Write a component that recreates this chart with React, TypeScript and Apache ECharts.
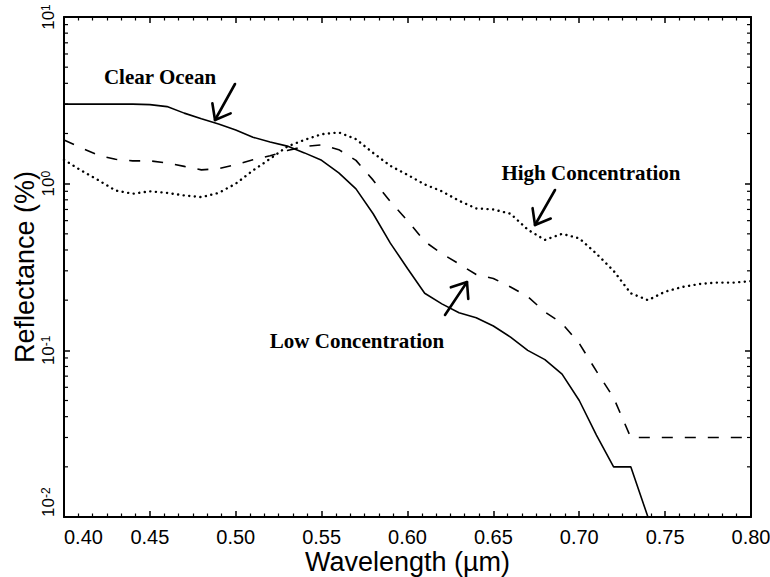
import React, { useEffect, useRef } from "react";
import * as echarts from "echarts";

// ---- data ----
const wavelengths = [
  0.40, 0.41, 0.42, 0.43, 0.44, 0.45, 0.46, 0.47, 0.48, 0.49,
  0.50, 0.51, 0.52, 0.53, 0.54, 0.55, 0.56, 0.57, 0.58, 0.59,
  0.60, 0.61, 0.62, 0.63, 0.64, 0.65, 0.66, 0.67, 0.68, 0.69,
  0.70, 0.71, 0.72, 0.73, 0.74, 0.75, 0.76, 0.77, 0.78, 0.79, 0.80,
];

const clearOcean = [
  3.0, 3.0, 3.0, 3.0, 3.0, 2.98, 2.9, 2.65, 2.45, 2.28,
  2.1, 1.9, 1.78, 1.68, 1.53, 1.38, 1.16, 0.93, 0.66, 0.44,
  0.31, 0.22, 0.19, 0.168, 0.157, 0.14, 0.12, 0.1, 0.088, 0.072,
  0.05, 0.031, 0.02, 0.02, 0.01, null, null, null, null, null, null,
];

const lowConcentration = [
  1.83, 1.64, 1.48, 1.4, 1.37, 1.37, 1.33, 1.27, 1.21, 1.23,
  1.3, 1.39, 1.47, 1.58, 1.67, 1.71, 1.6, 1.38, 1.05, 0.78,
  0.6, 0.45, 0.38, 0.33, 0.285, 0.27, 0.24, 0.21, 0.17, 0.145,
  0.11, 0.075, 0.052, 0.03, 0.03, 0.03, 0.03, 0.03, 0.03, 0.03, 0.03,
];

const highConcentration = [
  1.39, 1.2, 1.05, 0.91, 0.87, 0.9, 0.88, 0.85, 0.83, 0.88,
  1.0, 1.2, 1.41, 1.67, 1.83, 1.98, 2.03, 1.85, 1.53, 1.28,
  1.13, 0.99, 0.9, 0.79, 0.71, 0.7, 0.66, 0.53, 0.46, 0.5,
  0.47, 0.38, 0.3, 0.22, 0.2, 0.225, 0.24, 0.25, 0.255, 0.255, 0.26,
];

const xTickLabels = ["0.40", "0.45", "0.50", "0.55", "0.60", "0.65", "0.70", "0.75", "0.80"];
const yMinorTickValues = [
  0.02, 0.03, 0.04, 0.05, 0.06, 0.07, 0.08, 0.09,
  0.2, 0.3, 0.4, 0.5, 0.6, 0.7, 0.8, 0.9,
  2, 3, 4, 5, 6, 7, 8, 9,
];

const X_MIN = 0.4;
const X_MAX = 0.8;

const pair = (vals: (number | null)[]) =>
  wavelengths.map((w, i) => [w, vals[i]]).filter((p) => p[1] !== null);

function arrow(sx: number, sy: number, tx: number, ty: number) {
  const dx = sx - tx;
  const dy = sy - ty;
  const len = Math.hypot(dx, dy);
  const ux = dx / len;
  const uy = dy / len;
  const L = 17;
  const a = (38 * Math.PI) / 180;
  const rot = (ang: number) => [
    tx + L * (ux * Math.cos(ang) - uy * Math.sin(ang)),
    ty + L * (ux * Math.sin(ang) + uy * Math.cos(ang)),
  ];
  const style = { stroke: "#000", lineWidth: 2.6, lineCap: "round", lineJoin: "round", fill: null };
  return [
    { type: "line", shape: { x1: sx, y1: sy, x2: tx, y2: ty }, style },
    { type: "polyline", shape: { points: [rot(a), [tx, ty], rot(-a)] }, style },
  ];
}

const mk = () => ({ show: true, inside: true, length: 6, lineStyle: { color: "#000", width: 1.5 } });
const mn = () => ({ show: true, splitNumber: 6, length: 3.5, lineStyle: { color: "#000", width: 1.2 } });
const axisLine = () => ({ show: true, onZero: false, lineStyle: { color: "#000", width: 2 } });

export default function App() {
  const ref = useRef<HTMLDivElement>(null);

  useEffect(() => {
    document.body.style.margin = "0";
    if (!ref.current) return;
    const chart = echarts.init(ref.current, undefined, { renderer: "svg" });

    const fontFamily = "Liberation Sans, Arial, sans-serif";

    const option: any = {
      animation: false,
      backgroundColor: "#fff",
      grid: { left: 64, right: 19, top: 17, bottom: 60, containLabel: false, outerBoundsMode: "none" },
      xAxis: [
        {
          type: "value",
          min: X_MIN,
          max: X_MAX,
          interval: 0.05,
          position: "bottom",
          axisLine: axisLine(),
          axisTick: mk(),
          minorTick: mn(),
          splitLine: { show: false },
          axisLabel: {
            margin: 10,
            fontSize: 20,
            lineHeight: 20,
            color: "#000",
            fontFamily,
            alignMinLabel: "left",
            alignMaxLabel: "center",
            formatter: (v: number) => xTickLabels[Math.round((v - X_MIN) / 0.05)] ?? "",
          },
          name: "Wavelength (\u00b5m)",
          nameLocation: "middle",
          nameGap: 31,
          nameMoveOverlap: false,
          nameTextStyle: { fontSize: 27, lineHeight: 27, color: "#000", fontFamily, verticalAlign: "top" },
        },
        {
          type: "value",
          min: X_MIN,
          max: X_MAX,
          interval: 0.05,
          position: "top",
          axisLine: axisLine(),
          axisTick: mk(),
          minorTick: mn(),
          splitLine: { show: false },
          axisLabel: { show: false },
        },
      ],
      yAxis: [
        {
          type: "log",
          logBase: 10,
          min: 0.01,
          max: 10,
          position: "left",
          axisLine: axisLine(),
          axisTick: mk(),
          splitLine: { show: false },
          axisLabel: {
            rotate: 90,
            margin: 7,
            color: "#000",
            fontFamily,
            alignMinLabel: "left",
            formatter: (v: number) => `{b|10}{s|${Math.round(Math.log10(v))}}`,
            rich: {
              b: { fontSize: 17, fontFamily, color: "#000" },
              s: { fontSize: 12, fontFamily, color: "#000", verticalAlign: "top" },
            },
          },
          name: "Reflectance (%)",
          nameLocation: "middle",
          nameGap: 26,
          nameMoveOverlap: false,
          nameTextStyle: { fontSize: 27, color: "#000", fontFamily, verticalAlign: "bottom" },
        },
        {
          type: "log",
          logBase: 10,
          min: 0.01,
          max: 10,
          position: "right",
          axisLine: axisLine(),
          axisTick: mk(),
          splitLine: { show: false },
          axisLabel: { show: false },
        },
      ],
      series: [
        {
          name: "Clear Ocean",
          type: "line",
          data: pair(clearOcean),
          symbol: "none",
          lineStyle: { color: "#000", width: 1.6, type: "solid" },
        },
        {
          name: "Low Concentration",
          type: "line",
          data: pair(lowConcentration),
          symbol: "none",
          lineStyle: { color: "#000", width: 1.6, type: [11, 12] },
        },
        {
          name: "High Concentration",
          type: "line",
          data: pair(highConcentration),
          symbol: "none",
          lineStyle: { color: "#000", width: 2.4, type: [0.1, 5.5], cap: "round" },
        },
        {
          name: "minorY",
          type: "custom",
          coordinateSystem: "cartesian2d",
          silent: true,
          clip: false,
          data: yMinorTickValues.map((v) => [X_MIN, v]),
          encode: { x: 0, y: 1 },
          renderItem: (_params: any, api: any) => {
            const v = api.value(1);
            const l = api.coord([X_MIN, v]);
            const r = api.coord([X_MAX, v]);
            const st = { stroke: "#000", lineWidth: 1.2 };
            return {
              type: "group",
              children: [
                { type: "line", shape: { x1: l[0], y1: l[1], x2: l[0] + 4, y2: l[1] }, style: st },
                { type: "line", shape: { x1: r[0] - 4, y1: r[1], x2: r[0], y2: r[1] }, style: st },
              ],
            };
          },
        },
      ],
      graphic: [
        {
          type: "text",
          x: 160,
          y: 77,
          style: {
            text: "Clear Ocean",
            font: "bold 21px 'Liberation Serif', 'Times New Roman', serif",
            fill: "#000",
            align: "center",
            verticalAlign: "middle",
          },
        },
        {
          type: "text",
          x: 591,
          y: 173,
          style: {
            text: "High Concentration",
            font: "bold 21px 'Liberation Serif', 'Times New Roman', serif",
            fill: "#000",
            align: "center",
            verticalAlign: "middle",
          },
        },
        {
          type: "text",
          x: 357,
          y: 341,
          style: {
            text: "Low Concentration",
            font: "bold 21px 'Liberation Serif', 'Times New Roman', serif",
            fill: "#000",
            align: "center",
            verticalAlign: "middle",
          },
        },
        ...arrow(235, 84, 215, 120),
        ...arrow(555, 190, 535, 225),
        ...arrow(445, 315, 467, 282),
      ],
    };

    chart.setOption(option);
    return () => chart.dispose();
  }, []);

  return <div ref={ref} style={{ width: 770, height: 577 }} />;
}
